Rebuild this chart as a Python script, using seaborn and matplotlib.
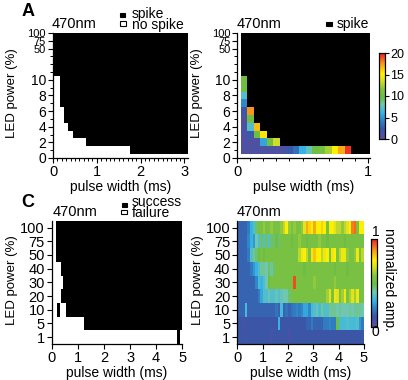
import numpy as np
import pandas as pd
import matplotlib
matplotlib.use('Agg')
import matplotlib.pyplot as plt
import seaborn as sns
from matplotlib.colors import LinearSegmentedColormap, ListedColormap
from matplotlib.patches import Rectangle

plt.rcParams['font.family'] = ['Liberation Sans', 'DejaVu Sans']

# ---------------- data ----------------
# y index used in panels A/B (0..16); labelled ticks
ab_tick_pos = [0, 2, 4, 6, 8, 10, 14, 15, 16]
ab_tick_labels = ['0', '2', '4', '6', '8', '10', '50', '75', '100']

# Panel A: lowest LED-power row that spikes, per pulse-width range (ms)
a_width_edges = [0.0, 0.15, 0.25, 0.35, 0.45, 0.75, 1.75, 3.1]
a_first_spike_row = [11, 7, 5, 4, 3, 2, 1]

# Panel B: coloured cells (values 0-20) per LED row, columns from 0.05 ms in 0.05 ms steps
b_row1 = [1, 1, 1, 1, 1, 1, 1, 2.5, 3.5, 6, 7.5, 10, 10.5, 12.5, 15, 17, 19.5]
b_row2 = [1, 1, 1, 5.5, 10.5, 13.5]
b_row3 = [1, 2.5, 10, 15.5]
b_row4 = [1, 7, 16.5]
b_row5 = [1, 10]
b_row6 = [2.5, 17.5]
b_row7 = [4.5]
b_row8 = [7]
b_row9 = [10]
b_row10 = [10]

# Panels C/D: LED power categories (top to bottom)
cd_power = ['100', '75', '50', '40', '30', '20', '10', '5', '1']
# Panel C: success interval(s) per row (ms)
c_success_from = [0.15, 0.15, 0.15, 0.35, 0.45, 0.35, 0.55, 1.25, 4.8]
c_success_to = [5.0, 5.0, 5.0, 5.0, 5.0, 5.0, 5.0, 5.0, 4.9]
c_extra_row = '10'
c_extra_from, c_extra_to = 0.2, 0.3

# Panel D: normalized amplitude, 0.1 ms columns from 0 to 5 ms
d_row100 = [0.15, 0.15, 0.15, 0.15, 0.2, 0.3, 0.35, 0.45, 0.55, 0.55,
            0.6, 0.55, 0.55, 0.6, 0.55, 0.55, 0.55, 0.6, 0.65, 0.75,
            0.6, 0.55, 0.6, 0.55, 0.55, 0.6, 0.7, 0.85, 0.8, 0.75,
            0.85, 0.75, 0.75, 0.8, 0.75, 0.55, 0.75, 0.75, 0.7, 0.65,
            0.65, 0.6, 0.65, 0.7, 0.75, 0.9, 0.92, 0.55, 0.75, 0.75]
d_row75 = [0.15, 0.15, 0.15, 0.15, 0.22, 0.3, 0.25, 0.4, 0.35, 0.45,
           0.35, 0.45, 0.35, 0.45, 0.45, 0.5, 0.45, 0.55, 0.55, 0.55,
           0.55, 0.5, 0.55, 0.55, 0.6, 0.55, 0.55, 0.5, 0.55, 0.55,
           0.55, 0.55, 0.6, 0.55, 0.55, 0.5, 0.55, 0.55, 0.55, 0.55,
           0.55, 0.55, 0.5, 0.55, 0.55, 0.55, 0.55, 0.55, 0.55, 0.55]
d_row50 = [0.15, 0.15, 0.15, 0.15, 0.2, 0.35, 0.42, 0.45, 0.5, 0.55,
           0.5, 0.55, 0.55, 0.55, 0.55, 0.55, 0.55, 0.55, 0.55, 0.55,
           0.55, 0.55, 0.55, 0.55, 0.65, 0.72, 0.75, 0.65, 0.55, 0.72,
           0.82, 0.75, 0.75, 0.65, 0.72, 0.75, 0.55, 0.72, 0.75, 0.55,
           0.65, 0.72, 0.72, 0.6, 0.55, 0.55, 0.6, 0.72, 0.55, 0.65]
d_row40 = [0.15, 0.15, 0.15, 0.15, 0.15, 0.2, 0.25, 0.3, 0.35, 0.42,
           0.42, 0.4, 0.45, 0.42, 0.45, 0.55, 0.55, 0.55, 0.55, 0.55,
           0.55, 0.55, 0.55, 0.55, 0.55, 0.55, 0.5, 0.55, 0.55, 0.55,
           0.55, 0.55, 0.55, 0.55, 0.55, 0.55, 0.55, 0.55, 0.5, 0.55,
           0.55, 0.55, 0.55, 0.5, 0.55, 0.55, 0.55, 0.55, 0.55, 0.55]
d_row30 = [0.15, 0.15, 0.15, 0.15, 0.15, 0.15, 0.15, 0.22, 0.33, 0.3,
           0.35, 0.4, 0.5, 0.55, 0.55, 0.55, 0.55, 0.55, 0.55, 0.55,
           0.55, 0.55, 0.95, 0.55, 0.55, 0.55, 0.55, 0.55, 0.55, 0.55,
           0.6, 0.55, 0.55, 0.55, 0.55, 0.55, 0.55, 0.55, 0.6, 0.55,
           0.55, 0.55, 0.55, 0.55, 0.55, 0.55, 0.55, 0.55, 0.55, 0.55]
d_row20 = [0.15, 0.15, 0.15, 0.15, 0.15, 0.15, 0.15, 0.15, 0.2, 0.28,
           0.35, 0.35, 0.38, 0.35, 0.35, 0.38, 0.35, 0.38, 0.4, 0.4,
           0.45, 0.55, 0.55, 0.55, 0.55, 0.55, 0.55, 0.55, 0.55, 0.55,
           0.55, 0.55, 0.55, 0.55, 0.55, 0.62, 0.7, 0.55, 0.72, 0.7,
           0.55, 0.62, 0.72, 0.55, 0.62, 0.7, 0.62, 0.72, 0.55, 0.55]
d_row10 = [0.15, 0.15, 0.15, 0.33, 0.15, 0.15, 0.15, 0.15, 0.15, 0.15,
           0.15, 0.15, 0.15, 0.15, 0.15, 0.18, 0.15, 0.33, 0.15, 0.18,
           0.15, 0.18, 0.2, 0.22, 0.2, 0.22, 0.28, 0.28, 0.22, 0.33,
           0.35, 0.38, 0.33, 0.42, 0.35, 0.35, 0.42, 0.42, 0.42, 0.4,
           0.42, 0.4, 0.4, 0.4, 0.42, 0.4, 0.42, 0.42, 0.42, 0.4]
d_row5 = [0.12, 0.12, 0.08, 0.12, 0.12, 0.12, 0.1, 0.12, 0.12, 0.1,
          0.12, 0.12, 0.12, 0.12, 0.12, 0.12, 0.3, 0.12, 0.12, 0.12,
          0.12, 0.12, 0.12, 0.12, 0.12, 0.12, 0.12, 0.15, 0.15, 0.2,
          0.15, 0.15, 0.15, 0.15, 0.2, 0.2, 0.22, 0.2, 0.2, 0.5,
          0.33, 0.33, 0.33, 0.35, 0.33, 0.33, 0.33, 0.35, 0.25, 0.2]
d_row1 = [0.12, 0.12, 0.12, 0.08, 0.12, 0.12, 0.1, 0.12, 0.12, 0.12,
          0.12, 0.12, 0.12, 0.08, 0.12, 0.12, 0.12, 0.12, 0.1, 0.12,
          0.08, 0.12, 0.12, 0.12, 0.12, 0.1, 0.12, 0.12, 0.12, 0.12,
          0.12, 0.1, 0.12, 0.12, 0.12, 0.12, 0.12, 0.12, 0.12, 0.12,
          0.12, 0.12, 0.1, 0.12, 0.12, 0.12, 0.12, 0.12, 0.12, 0.12]

# ---------------- colormap ----------------
cmap = LinearSegmentedColormap.from_list('rainbow_like', [
    (0.00, '#5b4c9e'), (0.12, '#3a56a6'), (0.22, '#2f86c8'), (0.30, '#36b4e5'),
    (0.40, '#70c7b0'), (0.48, '#69bd45'), (0.58, '#80c342'), (0.68, '#d7df23'),
    (0.76, '#fff200'), (0.88, '#f7941d'), (1.00, '#ed1c24')])
bw = ListedColormap(['white', 'black'])
blk = ListedColormap(['black'])

# ---------------- figure ----------------
W, H = 408, 380
fig = plt.figure(figsize=(W / 100, H / 100), dpi=100)


def fx(px):
    return px / W


def fy(py):
    return 1 - py / H


axA = fig.add_axes([fx(53), fy(158), (188 - 53) / W, 125 / H])
axB = fig.add_axes([fx(237.3), fy(158), (369.7 - 237.3) / W, 125 / H])
axC = fig.add_axes([fx(51.7), fy(344), (182.3 - 51.7) / W, (344 - 220.7) / H])
axD = fig.add_axes([fx(237.3), fy(344), (364 - 237.3) / W, (344 - 220.7) / H])
cbB = fig.add_axes([fx(378.5), fy(139), 6 / W, 86 / H])
cbD = fig.add_axes([fx(371), fy(327), 6 / W, 88 / H])


def style(ax):
    for s in ['left', 'bottom']:
        ax.spines[s].set_visible(True)
        ax.spines[s].set_linewidth(0.9)
        ax.spines[s].set_color('black')
    for s in ['top', 'right']:
        ax.spines[s].set_visible(False)
    ax.tick_params(which='major', direction='out', length=3.5, width=0.8,
                   color='black', pad=1.5, left=True, bottom=True)
    ax.tick_params(which='minor', direction='out', length=2, width=0.7,
                   color='black', left=True, bottom=True)
    ax.set_xlabel('')
    ax.set_ylabel('')


ab_rows = np.arange(16, -1, -1)

# ---- Panel A ----
a_cols = np.arange(62) * 0.05 + 0.025
A = np.zeros((len(ab_rows), len(a_cols)))
for j, xc in enumerate(a_cols):
    b = np.searchsorted(a_width_edges, xc) - 1
    A[:, j] = (ab_rows >= a_first_spike_row[b]).astype(float)
dfA = pd.DataFrame(A, index=ab_rows, columns=np.round(a_cols, 3))
sns.heatmap(dfA, ax=axA, cmap=bw, vmin=0, vmax=1, cbar=False,
            xticklabels=False, yticklabels=False)

# ---- Panel B ----
b_cols = np.round(np.arange(1, 21) * 0.05, 3)
b_rows = {1: b_row1, 2: b_row2, 3: b_row3, 4: b_row4, 5: b_row5,
          6: b_row6, 7: b_row7, 8: b_row8, 9: b_row9, 10: b_row10}
Bval = np.full((len(ab_rows), len(b_cols)), np.nan)
Bblack = np.zeros_like(Bval)
for i, r in enumerate(ab_rows):
    vals = b_rows.get(r, [])
    for j in range(len(b_cols)):
        if j < len(vals):
            Bval[i, j] = vals[j]
        elif r >= 1:
            Bblack[i, j] = 1
dfBblack = pd.DataFrame(Bblack, index=ab_rows, columns=b_cols)
dfBval = pd.DataFrame(Bval, index=ab_rows, columns=b_cols)
sns.heatmap(dfBblack, ax=axB, cmap=blk, mask=dfBblack == 0, cbar=False,
            xticklabels=False, yticklabels=False)
sns.heatmap(dfBval, ax=axB, cmap=cmap, vmin=0, vmax=20, mask=dfBval.isna(),
            cbar_ax=cbB, cbar_kws={'ticks': [0, 5, 10, 15, 20]},
            xticklabels=False, yticklabels=False)

for ax in (axA, axB):
    style(ax)
    ax.set_ylim(16.5, 0.5)
    ax.set_yticks([16.5 - v for v in ab_tick_pos])
    ax.set_yticklabels(ab_tick_labels)
    for lab, v in zip(ax.get_yticklabels(), ab_tick_pos):
        lab.set_fontsize(8 if v > 10 else 10)
    ax.set_yticks([16.5 - v for v in range(17)], minor=True)

axA.set_xlim(0, 3.08 / 0.05)
axA.set_xticks([0, 20, 40, 60])
axA.set_xticklabels(['0', '1', '2', '3'], fontsize=10.5)
axA.set_xticks(np.arange(0, 61, 2), minor=True)

axB.set_xlim(-0.5, (1.015 - 0.025) / 0.05)
axB.set_xticks([-0.5, 19.5])
axB.set_xticklabels(['0', '1'], fontsize=10.5)
axB.set_xticks(np.arange(0, 11) * 2 - 0.5, minor=True)

# ---- Panel C ----
c_cols = np.round(np.arange(100) * 0.05 + 0.025, 3)
C = np.zeros((len(cd_power), len(c_cols)))
for i, p in enumerate(cd_power):
    C[i] = ((c_cols > c_success_from[i]) & (c_cols < c_success_to[i])).astype(float)
    if p == c_extra_row:
        C[i] += ((c_cols > c_extra_from) & (c_cols < c_extra_to)).astype(float)
dfC = pd.DataFrame(np.clip(C, 0, 1), index=cd_power, columns=c_cols)
sns.heatmap(dfC, ax=axC, cmap=bw, vmin=0, vmax=1, cbar=False,
            xticklabels=False, yticklabels=False)

# ---- Panel D ----
d_cols = np.round(np.arange(50) * 0.1 + 0.05, 3)
D = np.array([d_row100, d_row75, d_row50, d_row40, d_row30,
              d_row20, d_row10, d_row5, d_row1])
dfD = pd.DataFrame(D, index=cd_power, columns=d_cols)
sns.heatmap(dfD, ax=axD, cmap=cmap, vmin=0, vmax=1, cbar_ax=cbD,
            cbar_kws={'ticks': []}, xticklabels=False, yticklabels=False)

for ax, scale in ((axC, 20), (axD, 10)):
    style(ax)
    ax.set_xlim(0, 5 * scale)
    ax.set_xticks(np.arange(6) * scale)
    ax.set_xticklabels([str(v) for v in range(6)], fontsize=10.5)
    ax.set_ylim(len(cd_power), 0)
    ax.set_yticks(np.arange(len(cd_power)) + 0.5)
    ax.set_yticklabels(cd_power, fontsize=10.5, rotation=0)

# axis labels
for ax in (axA, axB, axC, axD):
    ax.set_xlabel('pulse width (ms)', fontsize=10, labelpad=1)
    ax.set_ylabel('LED power (%)', fontsize=9.5)
    ax.yaxis.set_label_coords(-0.26, 0.52)

# colorbars
for cb_ax in (cbB, cbD):
    for sp in cb_ax.spines.values():
        sp.set_visible(True)
        sp.set_linewidth(0.8)
        sp.set_color('black')
cbarB = axB.collections[-1].colorbar
cbarB.outline.set_linewidth(0.8)
cbarB.outline.set_edgecolor('black')
cbB.tick_params(labelsize=9, length=3, width=0.8, pad=1)
cbarD = axD.collections[-1].colorbar
cbarD.outline.set_linewidth(0.8)
cbarD.outline.set_edgecolor('black')
cbD.tick_params(length=0)
fig.text(fx(375.5), fy(232), '1', fontsize=10, ha='center', va='center')
fig.text(fx(375.5), fy(332), '0', fontsize=10, ha='center', va='center')
fig.text(fx(389), fy(279), 'normalized amp.', fontsize=10, rotation=270,
         ha='center', va='center')

# titles / panel letters / legends
fig.text(fx(22), fy(12), 'A', fontsize=13, fontweight='bold', va='center')
fig.text(fx(21.5), fy(202.5), 'C', fontsize=13, fontweight='bold', va='center')
for x, y in ((52, 24), (237, 24), (53, 212.5), (237, 212)):
    fig.text(fx(x), fy(y), '470nm', fontsize=10.5, va='center')


def legend_box(x, y, w, h, filled):
    fig.patches.append(Rectangle((fx(x), fy(y + h)), w / W, h / H,
                                 transform=fig.transFigure,
                                 facecolor='black' if filled else 'white',
                                 edgecolor='black', linewidth=0.8))


legend_box(120, 13, 5, 4, True)
fig.text(fx(132), fy(14), 'spike', fontsize=10, va='center')
legend_box(119.5, 21, 6, 4.5, False)
fig.text(fx(132), fy(25), 'no spike', fontsize=10, va='center')
legend_box(326, 22, 6, 4, True)
fig.text(fx(337), fy(24), 'spike', fontsize=10, va='center')
legend_box(122, 203, 5, 3.5, True)
fig.text(fx(132), fy(202), 'success', fontsize=10, va='center')
legend_box(121, 209.5, 6, 4.5, False)
fig.text(fx(132), fy(213), 'failure', fontsize=10, va='center')

fig.savefig('out.png', dpi=100)
